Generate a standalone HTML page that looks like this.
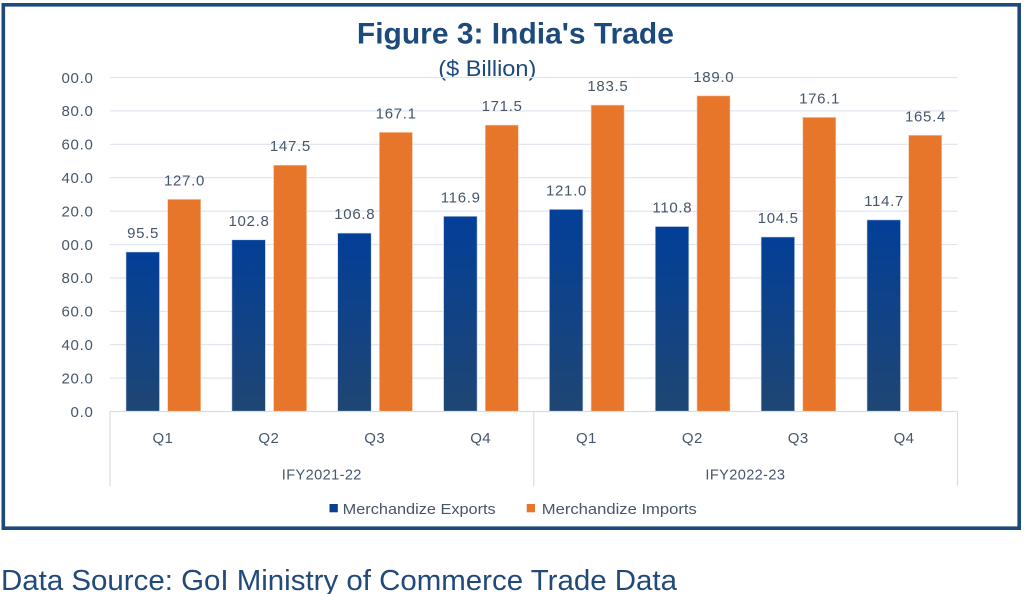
<!DOCTYPE html>
<html>
<head>
<meta charset="utf-8">
<style>
  html,body{margin:0;padding:0;background:#ffffff;}
  svg{display:block;}
  text{font-family:"Liberation Sans",Arial,sans-serif;}
</style>
</head>
<body>
<svg width="1024" height="594" viewBox="0 0 1024 594" xmlns="http://www.w3.org/2000/svg">
  <defs>
    <linearGradient id="bg" x1="0" y1="0" x2="0" y2="1">
      <stop offset="0" stop-color="#033f98"/>
      <stop offset="1" stop-color="#1f4673"/>
    </linearGradient>
  </defs>
  <rect x="0" y="0" width="1024" height="594" fill="#ffffff"/>
  <!-- frame -->
  <rect x="3.3" y="4.8" width="1015.9" height="523.4" fill="#ffffff" stroke="#1d4a7a" stroke-width="3.6"/>

  <!-- title -->
  <text x="515.4" y="43.5" text-anchor="middle" font-size="29.5" font-weight="bold" fill="#1c4a7c" textLength="317" lengthAdjust="spacingAndGlyphs">Figure 3: India's Trade</text>
  <text x="487.3" y="76" text-anchor="middle" font-size="22" fill="#1c4a7c" textLength="98" lengthAdjust="spacingAndGlyphs">($ Billion)</text>

  <!-- gridlines -->
  <g stroke="#dfe5ee" stroke-width="1.2">
    <line x1="110" x2="957.5" y1="77.5" y2="77.5"/>
    <line x1="110" x2="957.5" y1="110.9" y2="110.9"/>
    <line x1="110" x2="957.5" y1="144.3" y2="144.3"/>
    <line x1="110" x2="957.5" y1="177.7" y2="177.7"/>
    <line x1="110" x2="957.5" y1="211.1" y2="211.1"/>
    <line x1="110" x2="957.5" y1="244.5" y2="244.5"/>
    <line x1="110" x2="957.5" y1="277.9" y2="277.9"/>
    <line x1="110" x2="957.5" y1="311.3" y2="311.3"/>
    <line x1="110" x2="957.5" y1="344.7" y2="344.7"/>
    <line x1="110" x2="957.5" y1="378.1" y2="378.1"/>
  </g>

  <!-- y axis labels -->
  <g font-size="15" fill="#46566b" text-anchor="end" letter-spacing="0.7">
    <text x="93.5" y="82.8">00.0</text>
    <text x="93.5" y="116.2">80.0</text>
    <text x="93.5" y="149.6">60.0</text>
    <text x="93.5" y="183.0">40.0</text>
    <text x="93.5" y="216.4">20.0</text>
    <text x="93.5" y="249.8">00.0</text>
    <text x="93.5" y="283.2">80.0</text>
    <text x="93.5" y="316.6">60.0</text>
    <text x="93.5" y="350.0">40.0</text>
    <text x="93.5" y="383.4">20.0</text>
    <text x="93.5" y="416.8">0.0</text>
  </g>

  <!-- bars: exports -->
  <g fill="url(#bg)" stroke="#c9d3e6" stroke-width="0.6">
    <rect x="126.0" y="252.0" width="33.5" height="159.5"/>
    <rect x="231.9" y="239.8" width="33.5" height="171.7"/>
    <rect x="337.7" y="233.1" width="33.5" height="178.4"/>
    <rect x="443.6" y="216.3" width="33.5" height="195.2"/>
    <rect x="549.4" y="209.4" width="33.5" height="202.1"/>
    <rect x="655.3" y="226.5" width="33.5" height="185.0"/>
    <rect x="761.1" y="237.0" width="33.5" height="174.5"/>
    <rect x="867.0" y="219.9" width="33.5" height="191.6"/>
  </g>
  <!-- bars: imports -->
  <g fill="#e7762b" stroke="#f6c9a6" stroke-width="0.6">
    <rect x="167.7" y="199.4" width="33" height="212.1"/>
    <rect x="273.6" y="165.2" width="33" height="246.3"/>
    <rect x="379.4" y="132.4" width="33" height="279.1"/>
    <rect x="485.3" y="125.1" width="33" height="286.4"/>
    <rect x="591.1" y="105.1" width="33" height="306.4"/>
    <rect x="697.0" y="95.9" width="33" height="315.6"/>
    <rect x="802.8" y="117.4" width="33" height="294.1"/>
    <rect x="908.7" y="135.3" width="33" height="276.2"/>
  </g>

  <!-- data labels -->
  <g font-size="15" fill="#46566b" text-anchor="middle" letter-spacing="0.7">
    <text x="143.1" y="238.0">95.5</text>
    <text x="249.0" y="225.8">102.8</text>
    <text x="354.8" y="219.1">106.8</text>
    <text x="460.7" y="202.3">116.9</text>
    <text x="566.5" y="195.4">121.0</text>
    <text x="672.4" y="212.5">110.8</text>
    <text x="778.2" y="223.0">104.5</text>
    <text x="884.1" y="205.9">114.7</text>

    <text x="184.5" y="185.4">127.0</text>
    <text x="290.4" y="151.2">147.5</text>
    <text x="396.2" y="118.4">167.1</text>
    <text x="502.1" y="111.1">171.5</text>
    <text x="607.9" y="91.1">183.5</text>
    <text x="713.8" y="81.9">189.0</text>
    <text x="819.6" y="103.4">176.1</text>
    <text x="925.5" y="121.3">165.4</text>
  </g>

  <!-- category axis -->
  <g stroke="#d9dde3" stroke-width="1.2">
    <line x1="110" x2="957.5" y1="411.5" y2="411.5"/>
    <line x1="110" x2="110" y1="411.5" y2="486"/>
    <line x1="533.8" x2="533.8" y1="411.5" y2="486"/>
    <line x1="957.5" x2="957.5" y1="411.5" y2="486"/>
  </g>
  <g font-size="15" fill="#46566b" text-anchor="middle" letter-spacing="0.4">
    <text x="162.9" y="443">Q1</text>
    <text x="268.8" y="443">Q2</text>
    <text x="374.7" y="443">Q3</text>
    <text x="480.6" y="443">Q4</text>
    <text x="586.4" y="443">Q1</text>
    <text x="692.3" y="443">Q2</text>
    <text x="798.2" y="443">Q3</text>
    <text x="904.0" y="443">Q4</text>
    <text x="321.8" y="479.5" textLength="80" lengthAdjust="spacingAndGlyphs">IFY2021-22</text>
    <text x="745.4" y="479.5" textLength="80" lengthAdjust="spacingAndGlyphs">IFY2022-23</text>
  </g>

  <!-- legend -->
  <rect x="329.5" y="504" width="8.3" height="8.3" fill="#0a3f8e"/>
  <text x="342.7" y="514" font-size="15" fill="#46566b" textLength="153" lengthAdjust="spacingAndGlyphs">Merchandize Exports</text>
  <rect x="526.7" y="504" width="8.3" height="8.3" fill="#e7762b"/>
  <text x="541.8" y="514" font-size="15" fill="#46566b" textLength="155" lengthAdjust="spacingAndGlyphs">Merchandize Imports</text>

  <!-- source -->
  <text x="1" y="590" font-size="29" fill="#21497a" textLength="676" lengthAdjust="spacingAndGlyphs">Data Source: GoI Ministry of Commerce Trade Data</text>
</svg>
</body>
</html>
